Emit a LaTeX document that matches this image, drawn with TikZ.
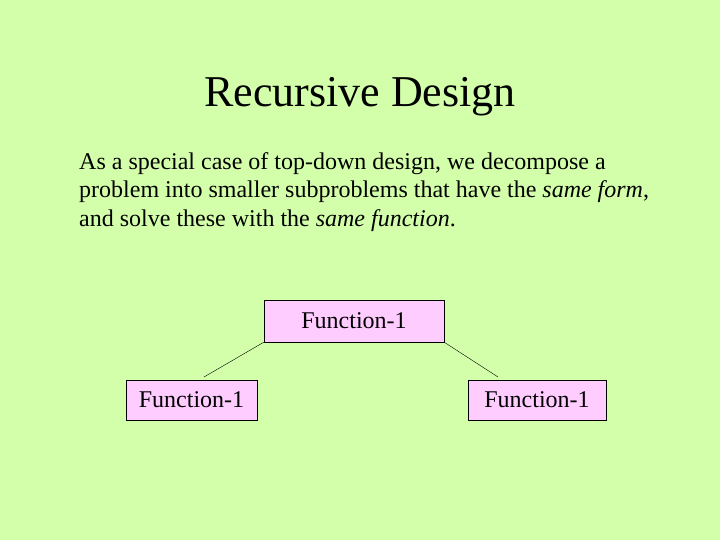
\documentclass[tikz,border=0pt]{standalone}
\usepackage{fontspec}
\setmainfont{Liberation Serif}
\definecolor{bg}{RGB}{212,255,170}
\definecolor{boxfill}{RGB}{255,204,255}
\begin{document}
\begin{tikzpicture}[x=1pt,y=-1pt,
  fbox/.style={draw=black,fill=boxfill,inner sep=0pt,font=\fontsize{24}{28}\selectfont}]
\fill[bg] (0,0) rectangle (720,540);
\useasboundingbox (0,0) rectangle (720,540);
\node (title) at (360,97) {\fontsize{44}{52}\selectfont Recursive Design};
\node[anchor=north west,align=left,inner sep=0pt,font=\fontsize{24}{28.5}\selectfont] (body) at (79,152)
 {As a special case of top-down design, we decompose a\\
  problem into smaller subproblems that have the \textit{same form},\\
  and solve these with the \textit{same function}.};
\node[fbox,minimum width=180pt,minimum height=42pt] (top) at (354,321) {Function-1};
\node[fbox,minimum width=131pt,minimum height=40pt] (left) at (191.5,400) {Function-1};
\node[fbox,minimum width=138pt,minimum height=40pt] (right) at (537,400) {Function-1};
\coordinate (lend) at (204,377);
\coordinate (rend) at (498,377);
\draw (top.south west) -- (lend);
\draw (top.south east) -- (rend);
\end{tikzpicture}
\end{document}
